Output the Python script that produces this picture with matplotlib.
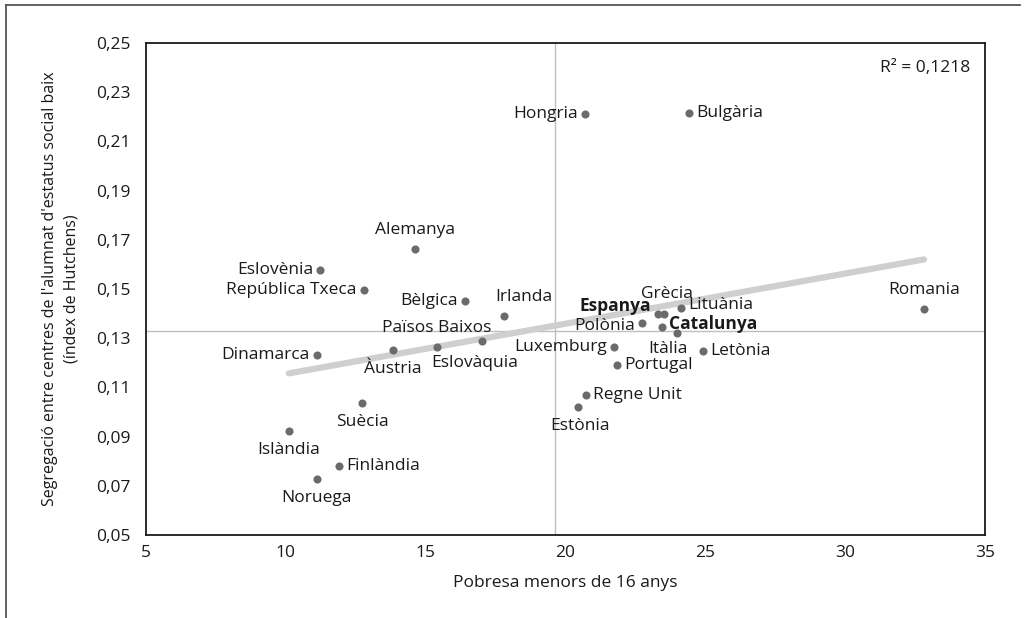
import matplotlib
matplotlib.use("Agg")
import matplotlib.pyplot as plt
from matplotlib.lines import Line2D
import numpy as np

# dades llegides del gràfic
paisos = ["Hongria", "Bulgària", "Alemanya", "Eslovènia", "República Txeca",
          "Bèlgica", "Irlanda", "Dinamarca", "Àustria", "Països Baixos",
          "Eslovàquia", "Grècia", "Espanya", "Lituània", "Polònia",
          "Catalunya", "Itàlia", "Luxemburg", "Letònia", "Portugal",
          "Regne Unit", "Estònia", "Suècia", "Islàndia", "Finlàndia",
          "Noruega", "Romania"]
pobresa = [20.70, 24.41, 14.62, 11.22, 12.79,
           16.41, 17.80, 11.11, 13.83, 15.40,
           17.01, 23.52, 23.31, 24.13, 22.73,
           23.45, 23.98, 21.73, 24.91, 21.84,
           20.73, 20.45, 12.72, 10.11, 11.90,
           11.11, 32.82]
segregacio = [0.2212, 0.2215, 0.1663, 0.1577, 0.1496,
              0.1451, 0.1390, 0.1232, 0.1252, 0.1264,
              0.1289, 0.1398, 0.1398, 0.1423, 0.1362,
              0.1346, 0.1321, 0.1264, 0.1248, 0.1191,
              0.1069, 0.1020, 0.1037, 0.0923, 0.0780,
              0.0728, 0.1419]
mitjana_x = 19.62
mitjana_y = 0.1329
r2_text = "R² = 0,1218"

# posició de cada etiqueta respecte del punt
posicio = {"Hongria": "left", "Bulgària": "right", "Alemanya": "above",
           "Eslovènia": "left", "República Txeca": "left", "Bèlgica": "left",
           "Irlanda": "above", "Dinamarca": "left", "Àustria": "below",
           "Països Baixos": "above", "Eslovàquia": "below", "Grècia": "above",
           "Espanya": "left", "Lituània": "right", "Polònia": "left",
           "Catalunya": "right", "Itàlia": "below", "Luxemburg": "left",
           "Letònia": "right", "Portugal": "right", "Regne Unit": "right",
           "Estònia": "below", "Suècia": "below", "Islàndia": "below",
           "Finlàndia": "right", "Noruega": "below", "Romania": "above"}
ajust = {"Irlanda": (20, 0), "Eslovàquia": (-7, -3), "Itàlia": (-9, 3),
         "Espanya": (0, 8), "Catalunya": (0, 3), "Polònia": (0, -3),
         "Lituània": (0, 3), "Estònia": (2, 0), "Grècia": (3, 1)}
negreta = ["Espanya", "Catalunya"]

plt.rcParams["font.family"] = ["Open Sans", "DejaVu Sans"]
mida = 12.5

fig = plt.figure(figsize=(10.25, 6.18), dpi=100)
ax = fig.add_axes([146/1025, 1-535/618, 839/1025, 492/618])

ax.axvline(mitjana_x, color="#bfbfbf", lw=1, zorder=1)
ax.axhline(mitjana_y, color="#bfbfbf", lw=1, zorder=1)

# línia de tendència
x = np.array(pobresa)
y = np.array(segregacio)
a, b = np.polyfit(x, y, 1)
xs = np.array([x.min(), x.max()])
ax.plot(xs, a*xs + b, color="#cfcfcf", lw=4.5, solid_capstyle="round", zorder=2)

ax.scatter(x, y, s=34, color="#6b6b6b", zorder=3, linewidths=0)

for nom, px, py in zip(paisos, pobresa, segregacio):
    p = posicio[nom]
    if p == "left":
        off, ha, va = (-7, 0), "right", "center"
    elif p == "right":
        off, ha, va = (7, 0), "left", "center"
    elif p == "above":
        off, ha, va = (0, 19), "center", "center"
    else:
        off, ha, va = (0, -19), "center", "center"
    dx, dy = ajust.get(nom, (0, 0))
    ax.annotate(nom, (px, py), xytext=(off[0] + dx, off[1] + dy),
                textcoords="offset pixels", ha=ha, va=va, fontsize=mida,
                color="#1a1a1a",
                fontweight="bold" if nom in negreta else "normal", zorder=4)

ax.text(0.983, 0.95, r2_text, transform=ax.transAxes, ha="right", va="center",
        fontsize=mida, color="#1a1a1a")

ax.set_xlim(5, 35)
ax.set_ylim(0.05, 0.25)
ax.set_xticks(np.arange(5, 36, 5))
ax.set_yticks(np.arange(0.05, 0.2501, 0.02))
ax.set_yticklabels([f"{v:.2f}".replace(".", ",") for v in np.arange(0.05, 0.2501, 0.02)])
ax.tick_params(length=0, labelsize=12.5, colors="#1a1a1a")
ax.tick_params(axis="y", pad=11)
ax.tick_params(axis="x", pad=7)
for s in ax.spines.values():
    s.set_linewidth(1.3)
    s.set_color("#1a1a1a")

ax.set_xlabel("Pobresa menors de 16 anys", fontsize=12.5, color="#1a1a1a", labelpad=10)
ax.set_ylabel("Segregació entre centres de l'alumnat d'estatus social baix\n(índex de Hutchens)",
              fontsize=11.5, color="#1a1a1a", labelpad=12, linespacing=1.5)

# marc exterior (només a dalt i a l'esquerra)
fig.add_artist(Line2D([6/1025, 1020/1025], [1-5/618, 1-5/618], color="#555555", lw=1.3))
fig.add_artist(Line2D([6/1025, 6/1025], [0, 1-5/618], color="#555555", lw=1.3))

fig.savefig("out.png", dpi=100)
